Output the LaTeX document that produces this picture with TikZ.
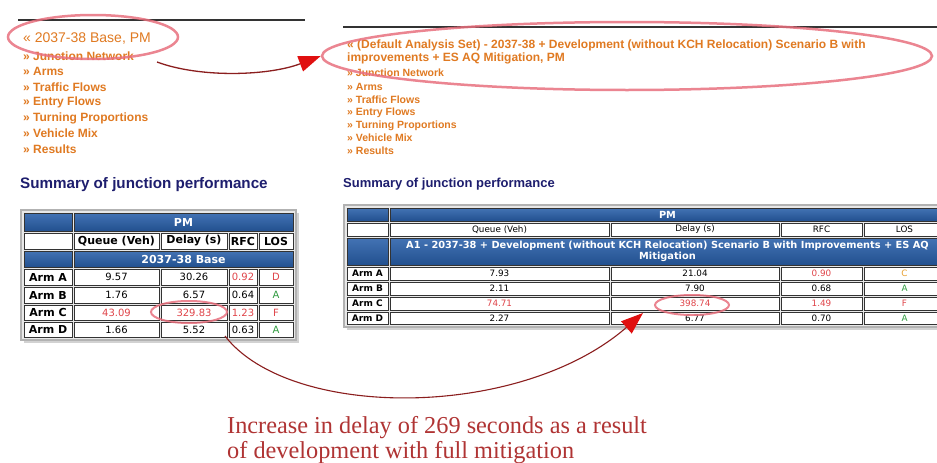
\documentclass[tikz,border=0pt]{standalone}
\usepackage{fontspec}
\setmainfont{Liberation Sans}
\newfontfamily\vfont{DejaVu Sans}
\newfontfamily\serfont{Liberation Serif}
\usetikzlibrary{shapes.geometric,arrows.meta}
\definecolor{menuor}{HTML}{E07A22}
\definecolor{navyh}{HTML}{1E1E6E}
\definecolor{blueT}{HTML}{4373B4}
\definecolor{blueB}{HTML}{22508F}
\definecolor{redv}{HTML}{E0454A}
\definecolor{greenv}{HTML}{2E9A3E}
\definecolor{orangev}{HTML}{E8A030}
\definecolor{ellc}{HTML}{E8707E}
\definecolor{txtred}{HTML}{B03434}
\definecolor{arrowred}{HTML}{E01010}
\definecolor{arrowdark}{HTML}{8B1E1E}
\newcommand\tc[7]{\node[tcell,#6,minimum width={#4-#2},minimum height={#5-#3}] (#1) at ({(#2+#4)/2},{(#3+#5)/2}) {#7};}
\begin{document}
\begin{tikzpicture}[x=1pt,y=-1pt,
  hline/.style={draw=black!80,line width=1.2pt},
  menuL/.style={anchor=west,inner sep=0pt,text=menuor,font=\bfseries\fontsize{12}{14}\selectfont},
  menuR/.style={anchor=west,inner sep=0pt,text=menuor,font=\bfseries\fontsize{10.5}{12}\selectfont},
  headL/.style={anchor=west,inner sep=0pt,text=navyh,font=\bfseries\fontsize{15.2}{17}\selectfont},
  headR/.style={anchor=west,inner sep=0pt,text=navyh,font=\bfseries\fontsize{13}{15}\selectfont},
  tframe/.style={fill=gray!18,draw=gray!60,line width=1.5pt},
  tcell/.style={draw=black!80,line width=0.8pt,fill=white,inner sep=0pt,outer sep=0pt,align=center,
     font=\vfont\fontsize{10}{12}\selectfont},
  bluec/.style={top color=blueT,bottom color=blueB},
  hdrL/.style={text=white,font=\vfont\bfseries\fontsize{11}{13}\selectfont},
  hdrLb/.style={font=\vfont\bfseries\fontsize{11}{13}\selectfont},
  armL/.style={font=\vfont\bfseries\fontsize{11}{13}\selectfont},
  rcell/.style={line width=0.6pt,font=\vfont\fontsize{8.8}{10}\selectfont},
  hdrR/.style={text=white,font=\vfont\bfseries\fontsize{9.8}{11}\selectfont},
  armR/.style={font=\vfont\bfseries\fontsize{9}{10}\selectfont},
  ellst/.style={ellipse,draw=ellc,line width=2.5pt,opacity=0.85,inner sep=0pt},
  arr/.style={draw=arrowdark,line width=1.3pt,-{Triangle[length=22pt,width=16pt,color=arrowred]}},
  bt/.style={anchor=base west,inner sep=0pt,text=txtred,font=\serfont\fontsize{24.3}{26}\selectfont}]
\useasboundingbox (0,0) rectangle (937,463);
\clip (0,0) rectangle (937,463);
\fill[white] (0,0) rectangle (937,463);

% ---------- left part ----------
\draw[hline] (18,20) -- (305,20);
\node[menuL,font=\fontsize{14}{16}\selectfont] (l0) at (23,39) {« 2037-38 Base, PM};
\node[menuL] (l1) at (23,56) {» Junction Network};
\node[menuL] (l2) at (23,71) {» Arms};
\node[menuL] (l3) at (23,87) {» Traffic Flows};
\node[menuL] (l4) at (23,102) {» Entry Flows};
\node[menuL] (l5) at (23,118) {» Turning Proportions};
\node[menuL] (l6) at (23,133) {» Vehicle Mix};
\node[menuL] (l7) at (23,149) {» Results};
\node[headL] (hL) at (20,185) {Summary of junction performance};

\fill[gray!35] (24,213) rectangle (299,343);
\draw[tframe] (21,210) rectangle (296,340);
\tc{L00}{24}{213}{72}{231}{bluec}{}
\tc{Lpm}{74}{213}{293}{231}{bluec,hdrL}{PM}
\tc{L10}{24}{233}{72}{249}{}{}
\tc{Lq}{74}{233}{159}{249}{hdrLb}{Queue (Veh)}
\tc{Ld}{161}{233}{227}{249}{hdrLb}{Delay (s)}
\tc{Lr}{229}{233}{257}{249}{hdrLb}{RFC}
\tc{Ll}{259}{233}{293}{249}{hdrLb}{LOS}
\tc{L20}{24}{251}{72}{267}{bluec}{}
\tc{Lbase}{74}{251}{293}{267}{bluec,hdrL}{2037-38 Base}
\foreach \nm/\ya/\yb/\q/\d/\r/\l in {
  A/269/285/9.57/30.26/\textcolor{redv}{0.92}/\textcolor{redv}{D},
  B/287/303/1.76/6.57/0.64/\textcolor{greenv}{A},
  C/305/320/\textcolor{redv}{43.09}/\textcolor{redv}{329.83}/\textcolor{redv}{1.23}/\textcolor{redv}{F},
  D/322/337/1.66/5.52/0.63/\textcolor{greenv}{A}}{
  \tc{LA\nm}{24}{\ya}{72}{\yb}{armL}{Arm \nm}
  \tc{LQ\nm}{74}{\ya}{159}{\yb}{}{\q}
  \tc{LD\nm}{161}{\ya}{227}{\yb}{}{\d}
  \tc{LR\nm}{229}{\ya}{257}{\yb}{}{\r}
  \tc{LL\nm}{259}{\ya}{293}{\yb}{}{\l}
}

% ---------- right part ----------
\draw[hline] (343,27) -- (937,27);
\node[menuR,align=left,font=\bfseries\fontsize{12}{13}\selectfont] (r0) at (347,51.5) {« (Default Analysis Set) - 2037-38 + Development (without KCH Relocation) Scenario B with\\improvements + ES AQ Mitigation, PM};
\node[menuR] (r1) at (347,73) {» Junction Network};
\node[menuR] (r2) at (347,87) {» Arms};
\node[menuR] (r3) at (347,100) {» Traffic Flows};
\node[menuR] (r4) at (347,113) {» Entry Flows};
\node[menuR] (r5) at (347,126) {» Turning Proportions};
\node[menuR] (r6) at (347,138) {» Vehicle Mix};
\node[menuR] (r7) at (347,151) {» Results};
\node[headR] (hR) at (343,184) {Summary of junction performance};

\fill[gray!35] (347,208) rectangle (943,330);
\draw[tframe] (344,205) rectangle (940,327);
\tc{R00}{347}{208}{388}{221}{rcell,bluec}{}
\tc{Rpm}{390}{208}{945}{221}{rcell,bluec,hdrR}{PM}
\tc{R10}{347}{223}{388}{236}{rcell}{}
\tc{Rq}{390}{223}{609}{236}{rcell}{Queue (Veh)}
\tc{Rd}{611}{223}{779}{236}{rcell}{Delay (s)}
\tc{Rr}{781}{223}{862}{236}{rcell}{RFC}
\tc{Rl}{864}{223}{945}{236}{rcell}{LOS}
\tc{R20}{347}{238}{388}{265}{rcell,bluec}{}
\tc{Ra1}{390}{238}{945}{265}{rcell,bluec,hdrR}{A1 - 2037-38 + Development (without KCH Relocation) Scenario B with Improvements + ES AQ\\Mitigation}
\foreach \nm/\ya/\yb/\q/\d/\r/\l in {
  A/267/280/7.93/21.04/\textcolor{redv}{0.90}/\textcolor{orangev}{C},
  B/282/295/2.11/7.90/0.68/\textcolor{greenv}{A},
  C/297/310/\textcolor{redv}{74.71}/\textcolor{redv}{398.74}/\textcolor{redv}{1.49}/\textcolor{redv}{F},
  D/312/324/2.27/6.77/0.70/\textcolor{greenv}{A}}{
  \tc{RA\nm}{347}{\ya}{388}{\yb}{rcell,armR}{Arm \nm}
  \tc{RQ\nm}{390}{\ya}{609}{\yb}{rcell}{\q}
  \tc{RD\nm}{611}{\ya}{779}{\yb}{rcell}{\d}
  \tc{RR\nm}{781}{\ya}{862}{\yb}{rcell}{\r}
  \tc{RL\nm}{864}{\ya}{945}{\yb}{rcell}{\l}
}

% ---------- highlights ----------
\node[ellst,minimum width=170,minimum height=44] (e1) at (93,37) {};
\node[ellst,minimum width=610,minimum height=68] (e2) at (627,56) {};
\node[ellst,line width=2pt,minimum width=76,minimum height=22] (e3) at (189,312) {};
\node[ellst,line width=2pt,minimum width=74,minimum height=20] (e4) at (692,305) {};

% ---------- arrows ----------
\coordinate (a1s) at (157,62);
\draw[arr] (a1s) .. controls (200,78) and (268,76) .. (e2.west);
\coordinate (a2s) at (225,336);
\coordinate (a2e) at (643,313);
\draw[arr,line width=1.1pt] (a2s) .. controls (290,420) and (520,420) .. (a2e);

% ---------- caption ----------
\node[bt] (t1) at (227,433) {Increase in delay of 269 seconds as a result};
\node[bt] (t2) at (227,458) {of development with full mitigation};
\end{tikzpicture}
\end{document}
